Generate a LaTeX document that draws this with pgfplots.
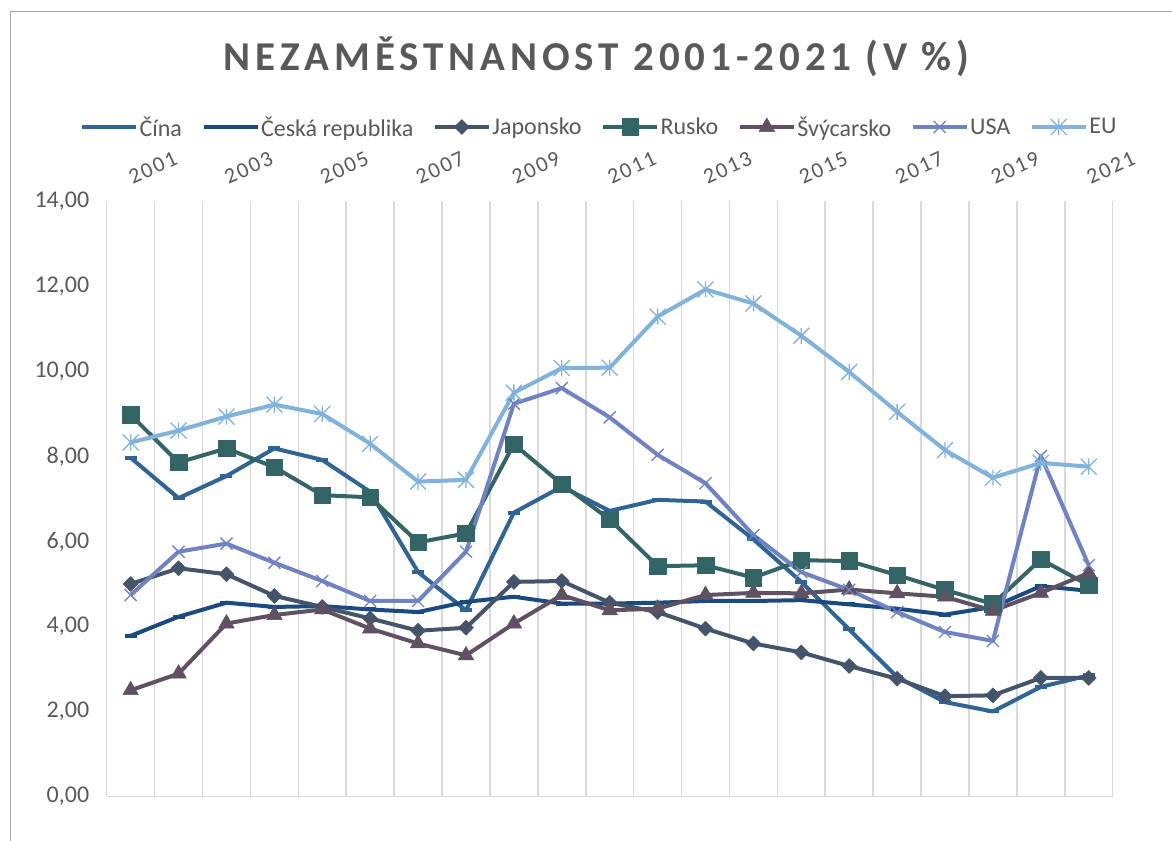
\documentclass[border=0pt]{standalone}
\usepackage{fontspec}
\setmainfont{Carlito}
\usepackage{pgfplots}
\usepackage{pgfplotstable}
\pgfplotsset{compat=1.18}
\definecolor{cCina}{RGB}{46,100,150}
\definecolor{cCR}{RGB}{26,74,128}
\definecolor{cJap}{RGB}{68,84,106}
\definecolor{cRus}{RGB}{51,101,102}
\definecolor{cSvy}{RGB}{95,81,97}
\definecolor{cUSA}{RGB}{111,130,195}
\definecolor{cEU}{RGB}{128,178,222}
\definecolor{txtgrey}{RGB}{89,89,89}
\definecolor{gridgrey}{RGB}{217,217,217}
\definecolor{framegrey}{RGB}{166,166,166}

\pgfdeclareplotmark{xstar}{%
  \pgfpathmoveto{\pgfqpoint{\pgfplotmarksize}{\pgfplotmarksize}}%
  \pgfpathlineto{\pgfqpoint{-\pgfplotmarksize}{-\pgfplotmarksize}}%
  \pgfpathmoveto{\pgfqpoint{-\pgfplotmarksize}{\pgfplotmarksize}}%
  \pgfpathlineto{\pgfqpoint{\pgfplotmarksize}{-\pgfplotmarksize}}%
  \pgfpathmoveto{\pgfqpoint{0pt}{\pgfplotmarksize}}%
  \pgfpathlineto{\pgfqpoint{0pt}{-\pgfplotmarksize}}%
  \pgfusepathqstroke}

\pgfplotstableread{
x  cina cr   jap  rus  svy  usa  eu
0  7.97 3.78 5.00 8.98 2.50 4.74 8.33
1  7.02 4.23 5.37 7.86 2.89 5.76 8.61
2  7.54 4.56 5.23 8.19 4.07 5.95 8.94
3  8.19 4.46 4.72 7.75 4.27 5.50 9.22
4  7.92 4.48 4.46 7.09 4.40 5.07 9.00
5  7.17 4.40 4.19 7.04 3.95 4.60 8.30
6  5.28 4.34 3.90 5.98 3.60 4.60 7.41
7  4.38 4.58 3.97 6.19 3.32 5.76 7.45
8  6.68 4.70 5.05 8.29 4.07 9.24 9.50
9  7.29 4.54 5.07 7.35 4.74 9.61 10.08
10 6.72 4.54 4.56 6.52 4.38 8.92 10.09
11 6.98 4.56 4.34 5.42 4.42 8.04 11.29
12 6.94 4.60 3.95 5.44 4.74 7.37 11.93
13 6.05 4.60 3.60 5.15 4.79 6.15 11.60
14 5.05 4.62 3.39 5.56 4.78 5.28 10.84
15 3.93 4.52 3.07 5.54 4.87 4.86 9.99
16 2.81 4.42 2.77 5.21 4.78 4.34 9.05
17 2.22 4.28 2.36 4.86 4.70 3.87 8.15
18 2.00 4.46 2.38 4.53 4.37 3.66 7.50
19 2.58 4.95 2.79 5.58 4.79 8.01 7.85
20 2.85 4.84 2.79 4.97 5.26 5.44 7.76
}\data

\begin{document}
\begin{tikzpicture}
\begin{axis}[
  at={(0,0)}, anchor=south west,
  scale only axis, width=1006bp, height=595bp,
  xmin=-0.5, xmax=20.5, ymin=0, ymax=14,
  axis line style={draw=none},
  major tick length=0pt, minor tick length=0pt,
  xtick={0,2,...,20},
  xticklabels={2001,2003,2005,2007,2009,2011,2013,2015,2017,2019,2021},
  xticklabel pos=top,
  minor xtick={-0.5,0.5,...,20.5},
  xminorgrids=true,
  minor grid style={draw=gridgrey, line width=1.6bp},
  ytick={0,2,...,14},
  extra y ticks={0}, extra y tick labels={},
  extra y tick style={ymajorgrids=true, major grid style={draw=gridgrey, line width=1.6bp}},
  xticklabel style={yshift=23bp, xshift=-1bp, rotate=25, anchor=west, inner sep=0pt,
    font=\fontsize{22bp}{26bp}\selectfont\addfontfeatures{LetterSpace=9}, text=txtgrey},
  yticklabel style={font=\fontsize{24bp}{28bp}\selectfont, text=txtgrey, xshift=-14bp,
    /pgf/number format/.cd, fixed, fixed zerofill, precision=2, use comma, assume math mode=true},
  title={NEZAMĚSTNANOST 2001-2021 (V \%)},
  title style={at={(0.4869,1.2095)}, anchor=base, inner sep=0pt,
    font=\fontsize{41bp}{48bp}\selectfont\bfseries\addfontfeatures{LetterSpace=12}, text=txtgrey},
  legend columns=7,
  legend style={at={(0.4894,1.1252)}, anchor=center, draw=none, fill=none,
    font=\fontsize{24bp}{28bp}\selectfont, text=txtgrey,
    nodes={inner sep=1.5bp},
    /tikz/every even column/.append style={column sep=18bp}},
  legend image code/.code={\draw[mark repeat=2,mark phase=2] plot coordinates {(0bp,0bp) (27bp,0bp) (54bp,0bp)};},
  every axis plot/.append style={line width=4bp, line join=round},
]
\addplot[cCina, mark=-, mark size=6bp, mark options={solid}] table[x=x,y=cina]{\data};
\addplot[cCR, mark=-, mark size=6bp, mark options={solid}] table[x=x,y=cr]{\data};
\addplot[cJap, mark=diamond*, mark size=7.5bp, mark options={solid, xscale=1.33, line width=0.5bp}] table[x=x,y=jap]{\data};
\addplot[cRus, mark=square*, mark size=8.3bp, mark options={solid, line width=0.5bp}] table[x=x,y=rus]{\data};
\addplot[cSvy, mark=triangle*, mark size=9bp, mark options={solid, line width=0.5bp}] table[x=x,y=svy]{\data};
\addplot[cUSA, mark=x, mark size=8.5bp, mark options={solid, line width=1.3bp}] table[x=x,y=usa]{\data};
\addplot[cEU, mark=xstar, mark size=8bp, mark options={solid, line width=1.3bp}] table[x=x,y=eu]{\data};
\legend{Čína, Česká republika, Japonsko, Rusko, Švýcarsko, USA, EU}
\end{axis}
\draw[framegrey, line width=1bp] (-95.7bp,-60bp) -- (-95.7bp,784.5bp) -- (1080bp,784.5bp);
\pgfresetboundingbox
\useasboundingbox (-106.7bp,-44.5bp) rectangle (1065.3bp,796.5bp);
\end{tikzpicture}
\end{document}
